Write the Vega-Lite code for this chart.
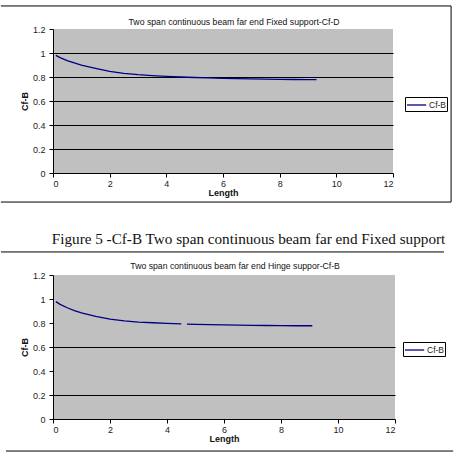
{
  "$schema": "https://vega.github.io/schema/vega-lite/v6.json",
  "background": "white",
  "padding": {"left": 0, "top": 5, "right": 0, "bottom": 0},
  "bounds": "flush",
  "spacing": 102,
  "datasets": {
    "fixed": [
      {"length": 0.1, "cf": 0.98, "series": "Cf-B"},
      {"length": 0.25, "cf": 0.962, "series": "Cf-B"},
      {"length": 0.5, "cf": 0.937, "series": "Cf-B"},
      {"length": 0.75, "cf": 0.917, "series": "Cf-B"},
      {"length": 1, "cf": 0.898, "series": "Cf-B"},
      {"length": 1.5, "cf": 0.871, "series": "Cf-B"},
      {"length": 2, "cf": 0.846, "series": "Cf-B"},
      {"length": 2.5, "cf": 0.831, "series": "Cf-B"},
      {"length": 3, "cf": 0.82, "series": "Cf-B"},
      {"length": 3.5, "cf": 0.812, "series": "Cf-B"},
      {"length": 4, "cf": 0.805, "series": "Cf-B"},
      {"length": 4.5, "cf": 0.8, "series": "Cf-B"},
      {"length": 5, "cf": 0.796, "series": "Cf-B"},
      {"length": 5.5, "cf": 0.792, "series": "Cf-B"},
      {"length": 6, "cf": 0.789, "series": "Cf-B"},
      {"length": 6.5, "cf": 0.786, "series": "Cf-B"},
      {"length": 7, "cf": 0.784, "series": "Cf-B"},
      {"length": 7.5, "cf": 0.782, "series": "Cf-B"},
      {"length": 8, "cf": 0.78, "series": "Cf-B"},
      {"length": 8.5, "cf": 0.779, "series": "Cf-B"},
      {"length": 9, "cf": 0.778, "series": "Cf-B"},
      {"length": 9.3, "cf": 0.778, "series": "Cf-B"}
    ],
    "hinge": [
      {"length": 0.1, "cf": 0.978, "series": "Cf-B"},
      {"length": 0.25, "cf": 0.955, "series": "Cf-B"},
      {"length": 0.5, "cf": 0.927, "series": "Cf-B"},
      {"length": 0.75, "cf": 0.903, "series": "Cf-B"},
      {"length": 1, "cf": 0.884, "series": "Cf-B"},
      {"length": 1.5, "cf": 0.855, "series": "Cf-B"},
      {"length": 2, "cf": 0.832, "series": "Cf-B"},
      {"length": 2.5, "cf": 0.817, "series": "Cf-B"},
      {"length": 3, "cf": 0.808, "series": "Cf-B"},
      {"length": 3.5, "cf": 0.802, "series": "Cf-B"},
      {"length": 4, "cf": 0.797, "series": "Cf-B"},
      {"length": 4.5, "cf": 0.793, "series": "Cf-B"},
      {"length": 4.6, "cf": null, "series": "Cf-B"},
      {"length": 4.7, "cf": 0.791, "series": "Cf-B"},
      {"length": 5, "cf": 0.789, "series": "Cf-B"},
      {"length": 5.5, "cf": 0.786, "series": "Cf-B"},
      {"length": 6, "cf": 0.784, "series": "Cf-B"},
      {"length": 6.5, "cf": 0.782, "series": "Cf-B"},
      {"length": 7, "cf": 0.78, "series": "Cf-B"},
      {"length": 7.5, "cf": 0.779, "series": "Cf-B"},
      {"length": 8, "cf": 0.778, "series": "Cf-B"},
      {"length": 8.5, "cf": 0.777, "series": "Cf-B"},
      {"length": 9.1, "cf": 0.777, "series": "Cf-B"}
    ]
  },
  "config": {
    "font": "Liberation Sans",
    "view": {"fill": "#c0c0c0", "stroke": null},
    "axis": {
      "labelFont": "Liberation Sans",
      "labelFontSize": 9,
      "labelColor": "#222",
      "tickColor": "black",
      "domainColor": "black",
      "tickSize": 4,
      "titleFont": "Liberation Sans",
      "titleFontSize": 9,
      "titleFontWeight": "bold",
      "titleColor": "#111",
      "gridColor": "black",
      "gridWidth": 1.2
    },
    "axisX": {"grid": false, "labelPadding": 2, "titlePadding": 0, "tickCount": 7},
    "axisY": {"labelPadding": 4, "titlePadding": 3, "tickCount": 7},
    "rule": {"color": "black", "strokeWidth": 1},
    "legend": {
      "orient": "none",
      "title": null,
      "strokeColor": "black",
      "fillColor": "white",
      "padding": 1,
      "symbolType": "M-1,0H2.2",
      "symbolSize": 144,
      "symbolStrokeWidth": 1.3,
      "labelFont": "Liberation Sans",
      "labelFontSize": 8.5,
      "labelColor": "#222",
      "labelOffset": 9
    }
  },
  "resolve": {"scale": {"color": "independent"}, "legend": {"color": "independent"}},
  "vconcat": [
    {
      "width": 340,
      "height": 144,
      "layer": [
        {
          "data": {"name": "fixed"},
          "mark": {"type": "line", "strokeWidth": 1.3},
          "encoding": {
            "x": {
              "field": "length",
              "type": "quantitative",
              "title": "Length",
              "scale": {"domain": [0, 12], "nice": false, "zero": false},
              "axis": {"values": [0, 2, 4, 6, 8, 10, 12], "format": "d"}
            },
            "y": {
              "field": "cf",
              "type": "quantitative",
              "title": "Cf-B",
              "scale": {"domain": [0, 1.2], "nice": false},
              "axis": {
                "values": [0, 0.2, 0.4, 0.6, 0.8, 1, 1.2],
                "format": "~g",
                "grid": true,
                "gridOpacity": {"condition": {"test": "datum.value > 0 && datum.value < 1.1", "value": 1}, "value": 0}
              }
            },
            "color": {
              "field": "series",
              "type": "nominal",
              "scale": {"range": ["#000080"]},
              "legend": {"legendX": 352, "legendY": 68}
            }
          }
        },
        {
          "data": {"values": [{"heading": "Two span continuous beam far end Fixed support-Cf-D"}]},
          "mark": {"type": "text", "font": "Liberation Sans", "fontSize": 8.7, "color": "#111", "align": "center", "baseline": "middle"},
          "encoding": {"text": {"field": "heading"}, "x": {"datum": 6.39}, "y": {"datum": 1.258}}
        },
        {
          "data": {"values": [{}]},
          "mark": "rule",
          "encoding": {"x": {"datum": -1.84}, "x2": {"datum": 14.05}, "y": {"datum": 1.392}}
        },
        {
          "data": {"values": [{}]},
          "mark": "rule",
          "encoding": {"x": {"datum": -1.84}, "x2": {"datum": 14.05}, "y": {"datum": -0.242}}
        },
        {
          "data": {"values": [{}]},
          "mark": "rule",
          "encoding": {"x": {"datum": 14.05}, "y": {"datum": 1.392}, "y2": {"datum": -0.242}}
        }
      ]
    },
    {
      "width": 342,
      "height": 144,
      "layer": [
        {
          "data": {"name": "hinge"},
          "mark": {"type": "line", "strokeWidth": 1.3, "invalid": "break-paths-show-domains"},
          "encoding": {
            "x": {
              "field": "length",
              "type": "quantitative",
              "title": "Length",
              "scale": {"domain": [0, 12], "nice": false, "zero": false},
              "axis": {"values": [0, 2, 4, 6, 8, 10, 12], "format": "d"}
            },
            "y": {
              "field": "cf",
              "type": "quantitative",
              "title": "Cf-B",
              "scale": {"domain": [0, 1.2], "nice": false},
              "axis": {
                "values": [0, 0.2, 0.4, 0.6, 0.8, 1, 1.2],
                "format": "~g",
                "grid": true,
                "gridOpacity": {"condition": {"test": "datum.value === 0.2 || datum.value === 0.6", "value": 1}, "value": 0}
              }
            },
            "color": {
              "field": "series",
              "type": "nominal",
              "scale": {"range": ["#000080"]},
              "legend": {"legendX": 350, "legendY": 67}
            }
          }
        },
        {
          "data": {"values": [{"heading": "Two span continuous beam far end Hinge suppor-Cf-B"}]},
          "mark": {"type": "text", "font": "Liberation Sans", "fontSize": 8.7, "color": "#111", "align": "center", "baseline": "middle"},
          "encoding": {"text": {"field": "heading"}, "x": {"datum": 6.39}, "y": {"datum": 1.275}}
        },
        {
          "data": {"values": [{"caption": "Figure 5 -Cf-B Two span continuous beam far  end Fixed support"}]},
          "mark": {"type": "text", "font": "Liberation Serif", "fontSize": 15.2, "color": "#111", "align": "center", "baseline": "middle"},
          "encoding": {"text": {"field": "caption"}, "x": {"datum": 6.86}, "y": {"datum": 1.5}}
        },
        {
          "data": {"values": [{}]},
          "mark": "rule",
          "encoding": {"x": {"datum": -1.825}, "x2": {"datum": 13.72}, "y": {"datum": 1.392}}
        },
        {
          "data": {"values": [{}]},
          "mark": "rule",
          "encoding": {"x": {"datum": -1.65}, "x2": {"datum": 14.04}, "y": {"datum": -0.267}}
        }
      ]
    }
  ]
}
